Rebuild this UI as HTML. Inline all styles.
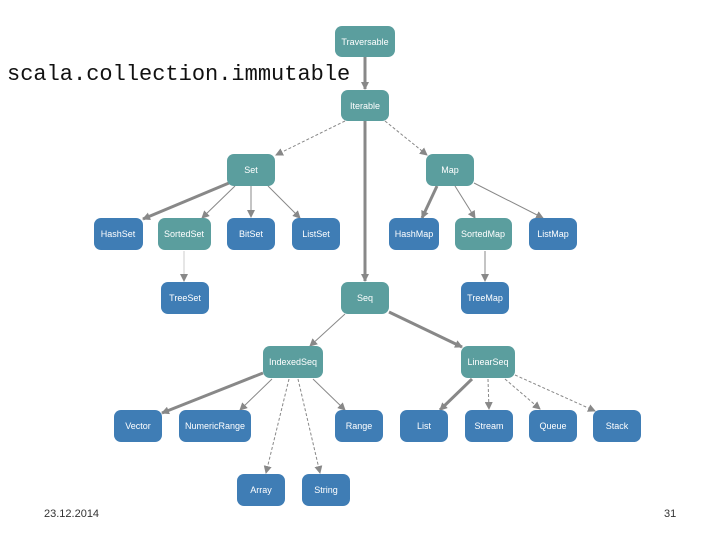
<!DOCTYPE html><html><head><style>body{margin:0;background:#fff;width:720px;height:540px;overflow:hidden;position:relative;font-family:"Liberation Sans",sans-serif}
.t{position:absolute;font-family:"Liberation Mono",monospace}
</style></head><body>
<div class="t" style="left:7px;top:63px;font-size:22px;color:#111;line-height:24px">scala.collection.immutable</div>
<div class="t" style="left:44px;top:508px;font-size:11px;color:#333;font-family:'Liberation Sans',sans-serif">23.12.2014</div>
<div class="t" style="left:664px;top:508px;font-size:11px;color:#333;font-family:'Liberation Sans',sans-serif">31</div>
<svg width="720" height="540" style="position:absolute;left:0;top:0">
<defs><marker id="a" markerWidth="8" markerHeight="8" refX="7" refY="4" orient="auto" markerUnits="userSpaceOnUse"><path d="M0,0L8,4L0,8z" fill="#888"/></marker></defs>
<g stroke="#888" fill="none" marker-end="url(#a)">
<line x1="365" y1="57" x2="365" y2="89" stroke-width="3"/>
<line x1="345" y1="121" x2="276" y2="155" stroke-dasharray="3,2"/>
<line x1="385" y1="121" x2="427" y2="155" stroke-dasharray="3,2"/>
<line x1="365" y1="121" x2="365" y2="281" stroke-width="3"/>
<line x1="229" y1="183" x2="143" y2="219" stroke-width="3"/>
<line x1="235" y1="186" x2="202" y2="218"/>
<line x1="251" y1="186" x2="251" y2="217"/>
<line x1="268" y1="186" x2="300" y2="218"/>
<line x1="184" y1="251" x2="184" y2="281" stroke="#ccc"/>
<line x1="437" y1="186" x2="422" y2="218" stroke-width="3"/>
<line x1="455" y1="186" x2="475" y2="218"/>
<line x1="474" y1="183" x2="543" y2="218"/>
<line x1="485" y1="251" x2="485" y2="281"/>
<line x1="345" y1="314" x2="310" y2="346"/>
<line x1="389" y1="312" x2="462" y2="347" stroke-width="3"/>
<line x1="263" y1="373" x2="162" y2="413" stroke-width="3"/>
<line x1="272" y1="379" x2="240" y2="410"/>
<line x1="313" y1="379" x2="345" y2="410"/>
<line x1="289" y1="379" x2="266" y2="473" stroke-dasharray="3,2"/>
<line x1="298" y1="379" x2="320" y2="473" stroke-dasharray="3,2"/>
<line x1="472" y1="379" x2="440" y2="410" stroke-width="3"/>
<line x1="488" y1="379" x2="489" y2="409" stroke-dasharray="3,2"/>
<line x1="505" y1="379" x2="540" y2="409" stroke-dasharray="3,2"/>
<line x1="515" y1="375" x2="595" y2="411" stroke-dasharray="3,2"/>
</g>
<g font-size="9" fill="#fff" text-anchor="middle" font-family="Liberation Sans,sans-serif">
<g fill="#5b9e9e">
<rect x="335" y="26" width="60" height="31" rx="7"/><rect x="341" y="90" width="48" height="31" rx="7"/>
<rect x="227" y="154" width="48" height="32" rx="7"/><rect x="158" y="218" width="53" height="32" rx="7"/>
<rect x="341" y="282" width="48" height="32" rx="7"/><rect x="426" y="154" width="48" height="32" rx="7"/>
<rect x="455" y="218" width="57" height="32" rx="7"/><rect x="263" y="346" width="60" height="32" rx="7"/>
<rect x="461" y="346" width="54" height="32" rx="7"/></g>
<g fill="#3f7db5">
<rect x="94" y="218" width="49" height="32" rx="7"/><rect x="227" y="218" width="48" height="32" rx="7"/>
<rect x="292" y="218" width="48" height="32" rx="7"/><rect x="161" y="282" width="48" height="32" rx="7"/>
<rect x="389" y="218" width="50" height="32" rx="7"/><rect x="529" y="218" width="48" height="32" rx="7"/>
<rect x="461" y="282" width="48" height="32" rx="7"/><rect x="114" y="410" width="48" height="32" rx="7"/>
<rect x="179" y="410" width="72" height="32" rx="7"/><rect x="335" y="410" width="48" height="32" rx="7"/>
<rect x="400" y="410" width="48" height="32" rx="7"/><rect x="465" y="410" width="48" height="32" rx="7"/>
<rect x="529" y="410" width="48" height="32" rx="7"/><rect x="593" y="410" width="48" height="32" rx="7"/>
<rect x="237" y="474" width="48" height="32" rx="7"/><rect x="302" y="474" width="48" height="32" rx="7"/></g>
<text x="365" y="45">Traversable</text><text x="365" y="109">Iterable</text>
<text x="251" y="173">Set</text><text x="450" y="173">Map</text>
<text x="118" y="237">HashSet</text><text x="184" y="237">SortedSet</text><text x="251" y="237">BitSet</text><text x="316" y="237">ListSet</text>
<text x="414" y="237">HashMap</text><text x="483" y="237">SortedMap</text><text x="553" y="237">ListMap</text>
<text x="185" y="301">TreeSet</text><text x="365" y="301">Seq</text><text x="485" y="301">TreeMap</text>
<text x="293" y="365">IndexedSeq</text><text x="488" y="365">LinearSeq</text>
<text x="138" y="429">Vector</text><text x="215" y="429">NumericRange</text><text x="359" y="429">Range</text>
<text x="424" y="429">List</text><text x="489" y="429">Stream</text><text x="553" y="429">Queue</text><text x="617" y="429">Stack</text>
<text x="261" y="493">Array</text><text x="326" y="493">String</text>
</g></svg></body></html>
